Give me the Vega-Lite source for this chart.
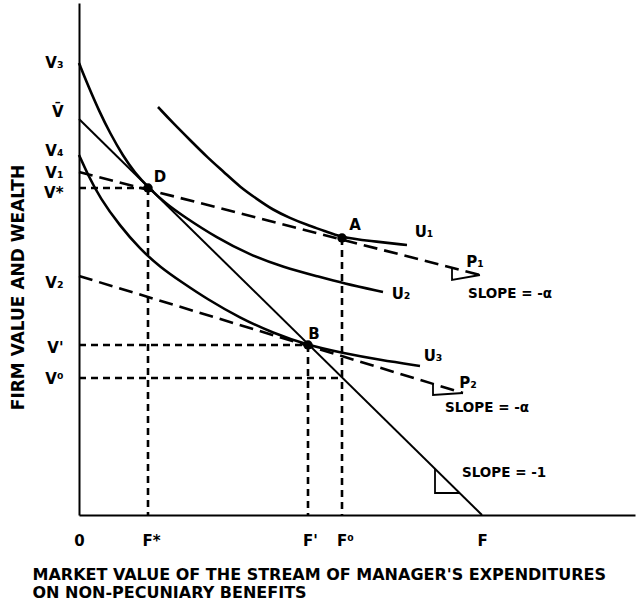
{
  "$schema": "https://vega.github.io/schema/vega-lite/v6.json",
  "width": 556,
  "height": 512,
  "autosize": {"type": "none"},
  "padding": {"left": 79, "top": 3, "right": 2, "bottom": 87},
  "background": "white",
  "config": {"view": {"stroke": null}, "font": "DejaVu Sans"},
  "datasets": {
    "lines": [
      {"id": "U1", "kind": "curve", "o": 1, "x": 79, "y": 408},
      {"id": "U1", "kind": "curve", "o": 2, "x": 94, "y": 392},
      {"id": "U1", "kind": "curve", "o": 3, "x": 111, "y": 375},
      {"id": "U1", "kind": "curve", "o": 4, "x": 128, "y": 358},
      {"id": "U1", "kind": "curve", "o": 5, "x": 146, "y": 342},
      {"id": "U1", "kind": "curve", "o": 6, "x": 161, "y": 328},
      {"id": "U1", "kind": "curve", "o": 7, "x": 178, "y": 316},
      {"id": "U1", "kind": "curve", "o": 8, "x": 194, "y": 305},
      {"id": "U1", "kind": "curve", "o": 9, "x": 211, "y": 297},
      {"id": "U1", "kind": "curve", "o": 10, "x": 228, "y": 290},
      {"id": "U1", "kind": "curve", "o": 11, "x": 246, "y": 284},
      {"id": "U1", "kind": "curve", "o": 12, "x": 261, "y": 278},
      {"id": "U1", "kind": "curve", "o": 13, "x": 291, "y": 274},
      {"id": "U1", "kind": "curve", "o": 14, "x": 328, "y": 270},
      {"id": "U2", "kind": "curve", "o": 1, "x": 0, "y": 452},
      {"id": "U2", "kind": "curve", "o": 2, "x": 8, "y": 432},
      {"id": "U2", "kind": "curve", "o": 3, "x": 21, "y": 402},
      {"id": "U2", "kind": "curve", "o": 4, "x": 31, "y": 382},
      {"id": "U2", "kind": "curve", "o": 5, "x": 44, "y": 359},
      {"id": "U2", "kind": "curve", "o": 6, "x": 56, "y": 342},
      {"id": "U2", "kind": "curve", "o": 7, "x": 69, "y": 328},
      {"id": "U2", "kind": "curve", "o": 8, "x": 86, "y": 312},
      {"id": "U2", "kind": "curve", "o": 9, "x": 104, "y": 299},
      {"id": "U2", "kind": "curve", "o": 10, "x": 138, "y": 277},
      {"id": "U2", "kind": "curve", "o": 11, "x": 171, "y": 260},
      {"id": "U2", "kind": "curve", "o": 12, "x": 204, "y": 248},
      {"id": "U2", "kind": "curve", "o": 13, "x": 241, "y": 238},
      {"id": "U2", "kind": "curve", "o": 14, "x": 263, "y": 232},
      {"id": "U2", "kind": "curve", "o": 15, "x": 304, "y": 223},
      {"id": "U3", "kind": "curve", "o": 1, "x": 0, "y": 360},
      {"id": "U3", "kind": "curve", "o": 2, "x": 9, "y": 340},
      {"id": "U3", "kind": "curve", "o": 3, "x": 21, "y": 317},
      {"id": "U3", "kind": "curve", "o": 4, "x": 41, "y": 289},
      {"id": "U3", "kind": "curve", "o": 5, "x": 61, "y": 266},
      {"id": "U3", "kind": "curve", "o": 6, "x": 81, "y": 248},
      {"id": "U3", "kind": "curve", "o": 7, "x": 104, "y": 232},
      {"id": "U3", "kind": "curve", "o": 8, "x": 128, "y": 216},
      {"id": "U3", "kind": "curve", "o": 9, "x": 161, "y": 197},
      {"id": "U3", "kind": "curve", "o": 10, "x": 194, "y": 182},
      {"id": "U3", "kind": "curve", "o": 11, "x": 228, "y": 170},
      {"id": "U3", "kind": "curve", "o": 12, "x": 263, "y": 162},
      {"id": "U3", "kind": "curve", "o": 13, "x": 301, "y": 155},
      {"id": "U3", "kind": "curve", "o": 14, "x": 341, "y": 149},
      {"id": "budget", "kind": "budget", "o": 1, "x": 0, "y": 396},
      {"id": "budget", "kind": "budget", "o": 2, "x": 403, "y": 0},
      {"id": "P1", "kind": "price", "o": 1, "x": 0, "y": 343},
      {"id": "P1", "kind": "price", "o": 2, "x": 401, "y": 240},
      {"id": "P2", "kind": "price", "o": 1, "x": 0, "y": 239},
      {"id": "P2", "kind": "price", "o": 2, "x": 384, "y": 122},
      {"id": "G1", "kind": "guide", "o": 1, "x": 0, "y": 327},
      {"id": "G1", "kind": "guide", "o": 2, "x": 69, "y": 327},
      {"id": "G2", "kind": "guide", "o": 1, "x": 69, "y": 327},
      {"id": "G2", "kind": "guide", "o": 2, "x": 69, "y": 0},
      {"id": "G3", "kind": "guide", "o": 1, "x": 0, "y": 170},
      {"id": "G3", "kind": "guide", "o": 2, "x": 229, "y": 170},
      {"id": "G4", "kind": "guide", "o": 1, "x": 229, "y": 170},
      {"id": "G4", "kind": "guide", "o": 2, "x": 229, "y": 0},
      {"id": "G5", "kind": "guide", "o": 1, "x": 0, "y": 137},
      {"id": "G5", "kind": "guide", "o": 2, "x": 263, "y": 137},
      {"id": "G6", "kind": "guide", "o": 1, "x": 263, "y": 277},
      {"id": "G6", "kind": "guide", "o": 2, "x": 263, "y": 0},
      {"id": "T1", "kind": "tri", "o": 1, "x": 373, "y": 247},
      {"id": "T1", "kind": "tri", "o": 2, "x": 373, "y": 235},
      {"id": "T1", "kind": "tri", "o": 3, "x": 401, "y": 240},
      {"id": "T2", "kind": "tri", "o": 1, "x": 354, "y": 131},
      {"id": "T2", "kind": "tri", "o": 2, "x": 354, "y": 120},
      {"id": "T2", "kind": "tri", "o": 3, "x": 384, "y": 122},
      {"id": "T3", "kind": "tri", "o": 1, "x": 356, "y": 46},
      {"id": "T3", "kind": "tri", "o": 2, "x": 356, "y": 22},
      {"id": "T3", "kind": "tri", "o": 3, "x": 381, "y": 22}
    ],
    "points": [
      {"name": "D", "x": 69, "y": 327},
      {"name": "A", "x": 263, "y": 277},
      {"name": "B", "x": 229, "y": 170}
    ],
    "labels": [
      {"t": "D", "x": 81, "y": 338},
      {"t": "A", "x": 276, "y": 290},
      {"t": "B", "x": 235, "y": 181},
      {"t": "U₁", "x": 345, "y": 283},
      {"t": "U₂", "x": 322, "y": 221},
      {"t": "U₃", "x": 354, "y": 159},
      {"t": "P₁", "x": 396, "y": 253},
      {"t": "P₂", "x": 389, "y": 132}
    ],
    "slopes": [
      {"t": "SLOPE = -α", "x": 389, "y": 221},
      {"t": "SLOPE = -α", "x": 366, "y": 107},
      {"t": "SLOPE = -1", "x": 383, "y": 42}
    ]
  },
  "encoding": {
    "x": {
      "field": "x", "type": "quantitative",
      "scale": {"domain": [0, 556], "nice": false, "zero": false},
      "axis": {
        "values": [0, 72, 231, 266, 403],
        "labelExpr": "datum.value == 0 ? '0' : datum.value == 72 ? 'F*' : datum.value == 231 ? \"F'\" : datum.value == 266 ? 'F⁰' : 'F'",
        "grid": false, "ticks": false, "domain": true, "domainColor": "black", "domainWidth": 2,
        "labelFont": "DejaVu Sans", "labelFontSize": 15, "labelFontWeight": "bold", "labelColor": "black",
        "labelPadding": 18, "labelBaseline": "top", "labelFlush": false, "labelOverlap": false,
        "title": ["MARKET VALUE OF THE STREAM OF MANAGER'S EXPENDITURES", "ON NON-PECUNIARY BENEFITS"],
        "titleFont": "DejaVu Sans", "titleFontSize": 16, "titleFontWeight": "bold", "titleColor": "black",
        "titleX": -47, "titleY": 64, "titleAlign": "left", "titleBaseline": "alphabetic", "titleLineHeight": 18, "titleAnchor": "start"
      }
    },
    "y": {
      "field": "y", "type": "quantitative",
      "scale": {"domain": [0, 512], "nice": false, "zero": false},
      "axis": {
        "values": [453, 404, 365, 343, 323, 233, 168, 137],
        "labelExpr": "datum.value == 453 ? 'V₃' : datum.value == 404 ? 'V̄' : datum.value == 365 ? 'V₄' : datum.value == 343 ? 'V₁' : datum.value == 323 ? 'V*' : datum.value == 233 ? 'V₂' : datum.value == 168 ? \"V'\" : 'V⁰'",
        "grid": false, "ticks": false, "domain": true, "domainColor": "black", "domainWidth": 2,
        "labelFont": "DejaVu Sans", "labelFontSize": 15, "labelFontWeight": "bold", "labelColor": "black",
        "labelPadding": 16, "labelAlign": "right", "labelBaseline": "middle", "labelFlush": false, "labelOverlap": false,
        "title": "FIRM VALUE AND WEALTH",
        "titleFont": "DejaVu Sans", "titleFontSize": 17, "titleFontWeight": "bold", "titleColor": "black",
        "titleX": -61, "titleY": 284, "titleAngle": 270, "titleAlign": "center", "titleBaseline": "middle"
      }
    }
  },
  "layer": [
    {
      "data": {"name": "lines"},
      "transform": [{"filter": "datum.kind == 'curve'"}],
      "mark": {"type": "line", "interpolate": "basis", "color": "black", "strokeWidth": 2.6},
      "encoding": {"detail": {"field": "id"}, "order": {"field": "o", "type": "quantitative"}}
    },
    {
      "data": {"name": "lines"},
      "transform": [{"filter": "datum.kind == 'budget'"}],
      "mark": {"type": "line", "color": "black", "strokeWidth": 2},
      "encoding": {"detail": {"field": "id"}, "order": {"field": "o", "type": "quantitative"}}
    },
    {
      "data": {"name": "lines"},
      "transform": [{"filter": "datum.kind == 'price'"}],
      "mark": {"type": "line", "color": "black", "strokeWidth": 2.6, "strokeDash": [14, 7]},
      "encoding": {"detail": {"field": "id"}, "order": {"field": "o", "type": "quantitative"}}
    },
    {
      "data": {"name": "lines"},
      "transform": [{"filter": "datum.kind == 'guide'"}],
      "mark": {"type": "line", "color": "black", "strokeWidth": 2.6, "strokeDash": [7, 5]},
      "encoding": {"detail": {"field": "id"}, "order": {"field": "o", "type": "quantitative"}}
    },
    {
      "data": {"name": "lines"},
      "transform": [{"filter": "datum.kind == 'tri'"}],
      "mark": {"type": "line", "color": "black", "strokeWidth": 1.8},
      "encoding": {"detail": {"field": "id"}, "order": {"field": "o", "type": "quantitative"}}
    },
    {
      "data": {"name": "points"},
      "mark": {"type": "circle", "color": "black", "opacity": 1, "size": 90}
    },
    {
      "data": {"name": "labels"},
      "mark": {"type": "text", "color": "black", "font": "DejaVu Sans", "fontSize": 15, "fontWeight": "bold", "baseline": "middle", "align": "center"},
      "encoding": {"text": {"field": "t"}}
    },
    {
      "data": {"name": "slopes"},
      "mark": {"type": "text", "color": "black", "font": "DejaVu Sans", "fontSize": 13.5, "fontWeight": "bold", "baseline": "middle", "align": "left"},
      "encoding": {"text": {"field": "t"}}
    }
  ]
}
